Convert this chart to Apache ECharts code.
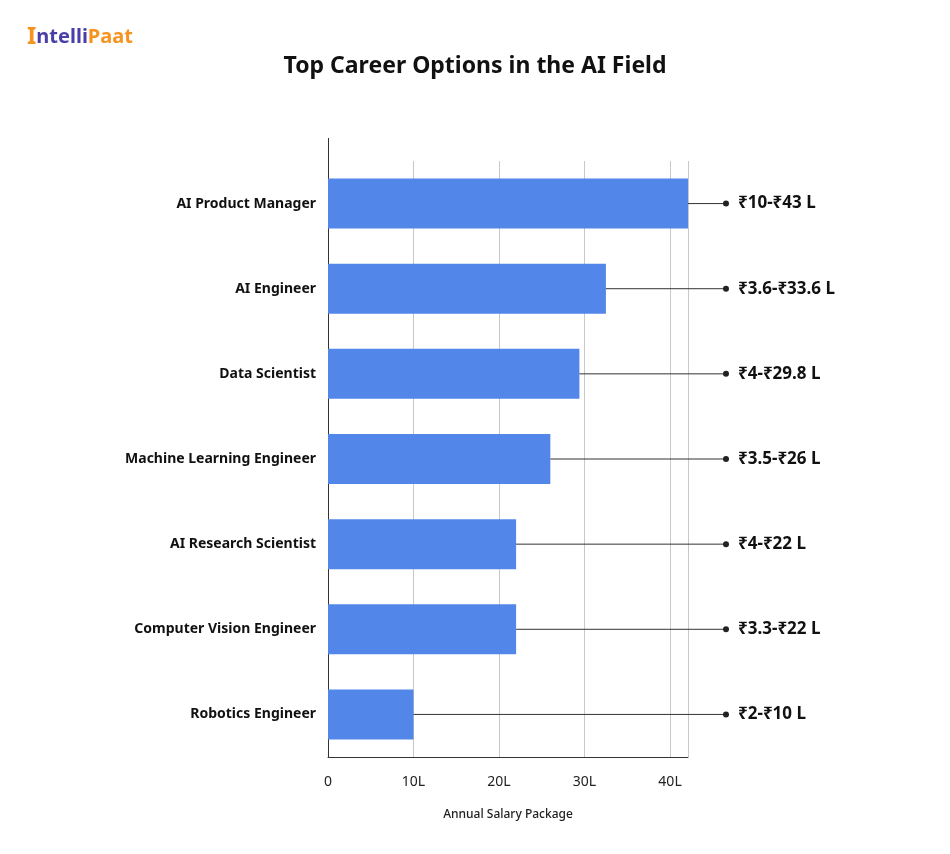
<!DOCTYPE html>
<html>
<head>
<meta charset="utf-8">
<script src="https://cdn.jsdelivr.net/npm/echarts@6/dist/echarts.min.js"></script>
<style>html,body{margin:0;background:#fff}#c{width:950px;height:854px}</style>
</head>
<body>
<div id="c"></div>
<script>
// 数据
const categories = ['AI Product Manager', 'AI Engineer', 'Data Scientist', 'Machine Learning Engineer',
  'AI Research Scientist', 'Computer Vision Engineer', 'Robotics Engineer'];
const salaryValues = [42.1, 32.5, 29.4, 26, 22, 22, 10];
const rangeLabels = ['₹10-₹43 L', '₹3.6-₹33.6 L', '₹4-₹29.8 L', '₹3.5-₹26 L', '₹4-₹22 L', '₹3.3-₹22 L', '₹2-₹10 L'];
const tickLabels = { 0: '0', 10: '10L', 20: '20L', 30: '30L', 40: '40L' };

const font = '"Noto Sans", "Open Sans", sans-serif';
let myChart = echarts.init(document.getElementById('c'));

let option = {
  animation: false,
  textStyle: { fontFamily: font },
  title: [
    {
      text: 'Top Career Options in the AI Field',
      left: 'center', top: 50,
      textStyle: { fontSize: 23, fontWeight: 'bold', color: '#111', fontFamily: font }
    },
    {
      text: '{a|I}{b|ntelli}{c|Paat}',
      left: 22, top: 20,
      textStyle: {
        rich: {
          a: { fontSize: 24, fontWeight: 'bold', color: '#f7931e', fontFamily: font },
          b: { fontSize: 20, fontWeight: 'bold', color: '#4a3fa8', fontFamily: font },
          c: { fontSize: 20, fontWeight: 'bold', color: '#f7931e', fontFamily: font }
        }
      }
    }
  ],
  grid: { left: 328, right: 262, top: 161, bottom: 97 },
  xAxis: {
    type: 'value', min: 0, max: 42.1, interval: 10,
    name: 'Annual Salary Package', nameLocation: 'middle', nameGap: 52,
    nameTextStyle: { fontSize: 12, color: '#222', fontWeight: 500 },
    axisLine: { show: true, lineStyle: { color: '#333' } },
    axisTick: { show: false },
    axisLabel: { color: '#222', fontSize: 14, margin: 18, formatter: v => tickLabels[v] || '' },
    splitLine: { show: true, lineStyle: { color: '#c8c8c8' } }
  },
  yAxis: {
    type: 'category', data: categories, inverse: true,
    axisLine: { show: true, lineStyle: { color: '#333' } },
    axisTick: { show: false },
    axisLabel: { color: '#111', fontSize: 14, fontWeight: 'bold', margin: 12 }
  },
  series: [
    {
      type: 'bar', data: salaryValues, barWidth: 50,
      itemStyle: { color: '#5286e8' }, z: 2
    },
    {
      // 连接线 + 圆点 + 范围文字
      type: 'custom', z: 3, clip: false,
      data: salaryValues.map((v, i) => [v, i]),
      renderItem: function (params, api) {
        const p = api.coord([api.value(0), api.value(1)]);
        const endX = 726;
        const i = params.dataIndex;
        return {
          type: 'group',
          children: [
            { type: 'line', shape: { x1: p[0], y1: p[1], x2: endX, y2: p[1] }, style: { stroke: '#333', lineWidth: 1 } },
            { type: 'circle', shape: { cx: endX, cy: p[1], r: 3 }, style: { fill: '#222' } },
            { type: 'text', x: endX + 12, y: p[1],
              style: { text: rangeLabels[i], fill: '#111', fontSize: 17, fontWeight: 'bold', fontFamily: font, verticalAlign: 'middle' } }
          ]
        };
      }
    }
  ],
  // 坐标轴上方延伸部分
  graphic: [
    { type: 'line', shape: { x1: 328.5, y1: 138, x2: 328.5, y2: 161 }, style: { stroke: '#333' } }
  ]
};
myChart.setOption(option);
</script>
</body>
</html>
